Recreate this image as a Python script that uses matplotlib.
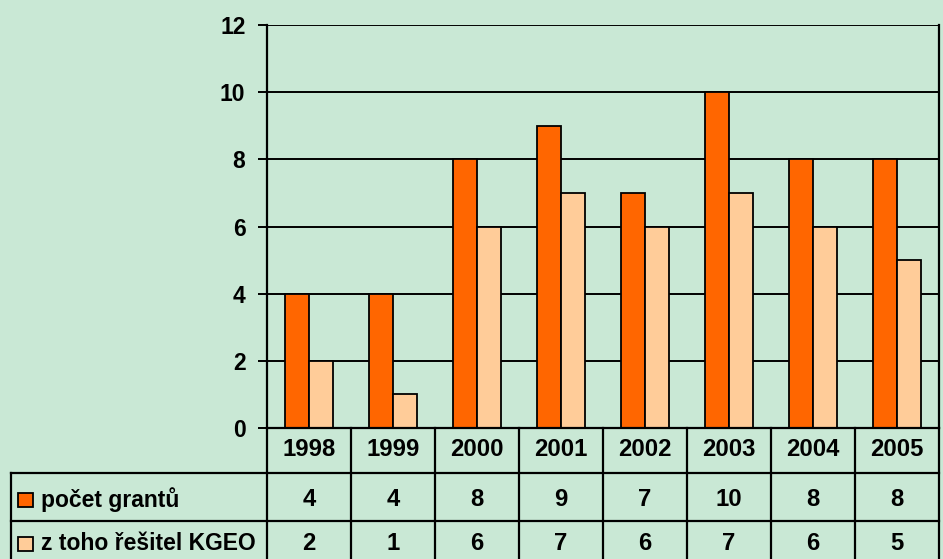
import matplotlib
matplotlib.use("Agg")
import matplotlib.pyplot as plt
import numpy as np

years = ["1998", "1999", "2000", "2001", "2002", "2003", "2004", "2005"]
granty = [4, 4, 8, 9, 7, 10, 8, 8]
kgeo = [2, 1, 6, 7, 6, 7, 6, 5]
series_names = ["počet grantů", "z toho řešitel KGEO"]
series_colors = ["#FF6600", "#FFCC99"]
yticks = [0, 2, 4, 6, 8, 10, 12]

BG = "#C9E8D5"
W, H = 943, 559
FS = 16.5      # labels and y ticks
FS_NUM = 17.2  # numbers in the data table
plt.rcParams["font.family"] = ["Liberation Sans", "DejaVu Sans"]
plt.rcParams["font.weight"] = "bold"

fig = plt.figure(figsize=(W / 100, H / 100), dpi=100, facecolor=BG)

# plot area in pixels: x 267..939, y 25..428
ax = fig.add_axes([267 / W, (H - 428) / H, 672 / W, 403 / H])
ax.set_facecolor(BG)
x = np.arange(len(years))
bw = 24 / 84
for vals, col, off in [(granty, series_colors[0], -bw / 2), (kgeo, series_colors[1], bw / 2)]:
    ax.bar(x + off, vals, bw, color=col, edgecolor="black", linewidth=1.3, zorder=3)
ax.set_xlim(-0.5, len(years) - 0.5)
ax.set_ylim(0, 12)
ax.set_yticks(yticks)
ax.set_yticklabels([str(v) for v in yticks], fontsize=FS, fontweight="bold")
ax.yaxis.grid(True, color="black", linewidth=1.4, zorder=0)
ax.set_xticks([])
ax.tick_params(axis="y", length=6.5, width=1.4, pad=9)
for s in ["top", "bottom"]:
    ax.spines[s].set_visible(False)
ax.spines["left"].set_linewidth(1.6)
ax.spines["right"].set_linewidth(1.6)

# data table below the plot, y in pixels below the axis line
tab = fig.add_axes([267 / W, 0, 672 / W, (H - 428) / H], sharex=ax)
tab.set_ylim(H - 428, 0)
tab.axis("off")
tab.patch.set_visible(False)

left = -0.5 - 256 / 84
r1, r2 = 45, 92.5
kw = dict(color="black", linewidth=1.6, clip_on=False)
tab.plot([-0.5, 7.5], [0, 0], **kw)
tab.plot([left, 7.5], [r1, r1], **kw)
tab.plot([left, 7.5], [r2, r2], **kw)
tab.plot([left, left], [r1, 140], **kw)
for b in np.arange(-0.5, len(years) + 0.5, 1):
    tab.plot([b, b], [0, 140], **kw)

row_y = [22, 72, 116]
for i, yr in enumerate(years):
    tab.text(i, row_y[0], yr, ha="center", va="center", fontsize=FS_NUM, fontweight="bold")
    tab.text(i, row_y[1], str(granty[i]), ha="center", va="center", fontsize=FS_NUM, fontweight="bold")
    tab.text(i, row_y[2], str(kgeo[i]), ha="center", va="center", fontsize=FS_NUM, fontweight="bold")

for name, col, yc in zip(series_names, series_colors, row_y[1:]):
    kx0 = -0.5 + (18 - 267) / 84
    kx1 = -0.5 + (33 - 267) / 84
    tab.add_patch(plt.Rectangle((kx0, yc - 7), kx1 - kx0, 14, facecolor=col,
                                edgecolor="black", linewidth=1.3, clip_on=False))
    tab.text(-0.5 + (41 - 267) / 84, yc, name, ha="left", va="center",
             fontsize=FS, fontweight="bold")

fig.savefig("out.png", dpi=100, facecolor=BG)
